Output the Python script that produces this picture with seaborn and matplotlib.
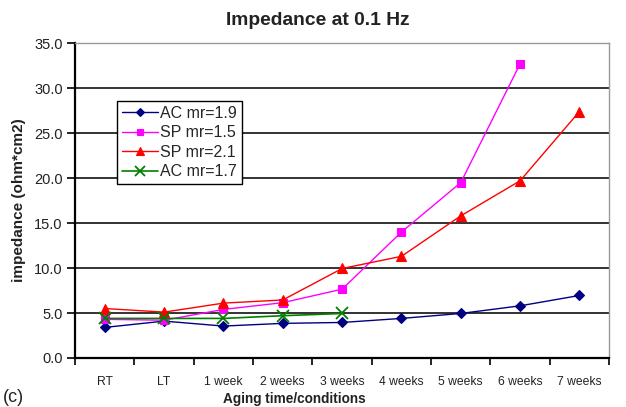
import numpy as np
import pandas as pd
import seaborn as sns
import matplotlib
matplotlib.use("Agg")
import matplotlib.pyplot as plt
from matplotlib.ticker import FixedLocator, FormatStrFormatter

conditions = ["RT", "LT", "1 week", "2 weeks", "3 weeks", "4 weeks",
              "5 weeks", "6 weeks", "7 weeks"]

ac_mr19 = [3.4, 4.1, 3.55, 3.85, 3.95, 4.4, 4.95, 5.8, 6.95]
sp_mr15 = [4.3, 4.2, 5.4, 6.15, 7.65, 14.0, 19.5, 32.7]
sp_mr21 = [5.5, 5.1, 6.1, 6.45, 9.95, 11.3, 15.8, 19.7, 27.4]
ac_mr17 = [4.4, 4.4, 4.4, 4.7, 4.95]

series = [
    ("AC mr=1.9", ac_mr19, "#000080", "D", 5.0, 1.0),
    ("SP mr=1.5", sp_mr15, "#FF00FF", "s", 6.0, 1.0),
    ("SP mr=2.1", sp_mr21, "#FF0000", "^", 6.5, 1.0),
    ("AC mr=1.7", ac_mr17, "#008000", "x", 8.5, 1.2),
]

sns.set_theme(style="white")
plt.rcParams["font.family"] = ["Liberation Sans", "DejaVu Sans"]

fig = plt.figure(figsize=(6.26, 4.07), dpi=100)
ax = fig.add_axes([0.12, 0.1204, 0.853, 0.7736])

for name, vals, color, marker, ms, lw in series:
    df = pd.DataFrame({"pos": np.arange(len(vals)), "value": vals})
    sns.lineplot(data=df, x="pos", y="value", ax=ax, color=color,
                 marker=marker, markersize=ms, linewidth=lw,
                 markeredgecolor=color,
                 markeredgewidth=1.3 if marker == "x" else 0.8,
                 label=name, errorbar=None, sort=False)

ax.set_xlim(-0.5, len(conditions) - 0.5)
ax.set_ylim(0, 35)
ax.set_yticks(np.arange(0, 35.1, 5))
ax.yaxis.set_major_formatter(FormatStrFormatter("%.1f"))
ax.set_xticks(np.arange(len(conditions)))
ax.set_xticklabels(conditions)
ax.xaxis.set_minor_locator(FixedLocator(np.arange(-0.5, len(conditions), 1.0)))

ax.tick_params(axis="x", which="major", length=0, labelsize=8.7, pad=13,
               colors="#222222")
ax.tick_params(axis="x", which="minor", length=5, width=1.2, color="black",
               direction="out", bottom=True)
ax.tick_params(axis="y", length=6, width=1.2, color="black", direction="out",
               left=True, labelsize=10.5, pad=3, labelcolor="#222222")

for y in np.arange(5, 35, 5):
    ax.axhline(y, color="#111111", linewidth=1.2, zorder=0.5)

for side in ("left", "bottom"):
    ax.spines[side].set_color("black")
    ax.spines[side].set_linewidth(1.6)
for side in ("top", "right"):
    ax.spines[side].set_color("#999999")
    ax.spines[side].set_linewidth(1.0)

ax.set_xlabel("Aging time/conditions", fontsize=9.8, fontweight="bold",
              labelpad=3, color="#222222")
ax.xaxis.set_label_coords(0.41, -0.107)
ax.set_ylabel("impedance (ohm*cm2)", fontsize=11, fontweight="bold",
              labelpad=6, color="#222222")
ax.set_title("Impedance at 0.1 Hz", fontsize=13.9, fontweight="bold",
             pad=13, color="#222222", x=0.455)

leg = ax.legend(loc="upper left", bbox_to_anchor=(0.0787, 0.816),
                borderaxespad=0, fontsize=11.5, frameon=True, fancybox=False,
                handlelength=2.25, handletextpad=0.15, labelspacing=0.28,
                borderpad=0.3, markerscale=0.8)
leg.get_frame().set_edgecolor("black")
leg.get_frame().set_linewidth(1.0)
leg.get_frame().set_alpha(1)

fig.text(0.004, 0.012, "(c)", fontsize=13, color="#222222")

fig.savefig("out.png", dpi=100)
